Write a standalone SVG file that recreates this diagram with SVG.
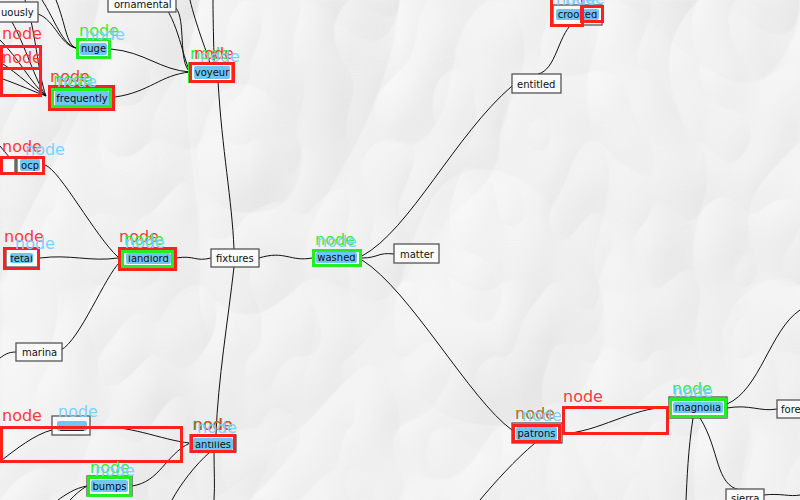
<svg xmlns="http://www.w3.org/2000/svg" width="800" height="500" viewBox="0 0 800 500">
<defs>
<style>
.bg{fill:#efefef}
.box{fill:#fafafa;stroke:#555;stroke-width:1.3}
.t{font-family:"DejaVu Sans",sans-serif;font-size:10px;fill:#111}
.blue{fill:#6ec6f5}
.ht{font-family:"DejaVu Sans",sans-serif;font-size:10px;fill:#111}
.red{fill:none;stroke:#ff2020;stroke-width:3}
.grn{fill:none;stroke:#22ee22;stroke-width:3}
.lab{font-family:"DejaVu Sans",sans-serif;font-size:16px}
.lr{fill:#ff3a3a}
.lg{fill:#30ee30}
.lb{fill:#7fcfff}
.edges path{fill:none;stroke:#111;stroke-width:1}
</style>
<filter id="paper" x="0" y="0" width="100%" height="100%" color-interpolation-filters="sRGB">
<feTurbulence type="turbulence" baseFrequency="0.005 0.0035" numOctaves="3" seed="11" result="n"/>
<feDiffuseLighting in="n" surfaceScale="7" diffuseConstant="1" lighting-color="#ffffff" result="l">
<feDistantLight azimuth="235" elevation="58"/>
</feDiffuseLighting>
<feColorMatrix in="l" type="matrix" values="0.38 0 0 0 0.62  0.38 0 0 0 0.62  0.38 0 0 0 0.62  0 0 0 0 1"/>
</filter>
<clipPath id="c-huge"><rect x="80" y="46" width="27" height="10"/></clipPath>
<clipPath id="c-freq"><rect x="55" y="94" width="54" height="12"/></clipPath>
<clipPath id="c-voy"><rect x="194" y="68.5" width="36" height="11"/></clipPath>
<clipPath id="c-ocp"><rect x="20" y="161.5" width="20" height="10"/></clipPath>
<clipPath id="c-fetal"><rect x="10" y="255.5" width="23" height="8"/></clipPath>
<clipPath id="c-land"><rect x="126" y="255.5" width="45" height="9"/></clipPath>
<clipPath id="c-wash"><rect x="316" y="254.5" width="41" height="9"/></clipPath>
<clipPath id="c-ant"><rect x="193" y="441.5" width="40" height="9"/></clipPath>
<clipPath id="c-bump"><rect x="91" y="482.5" width="37" height="10"/></clipPath>
<clipPath id="c-pat"><rect x="516" y="429.5" width="41" height="11"/></clipPath>
<clipPath id="c-mag"><rect x="673" y="404.5" width="50" height="9"/></clipPath>
<clipPath id="c-crook"><rect x="556" y="11.5" width="43" height="9"/></clipPath>
</defs>

<rect class="bg" x="0" y="0" width="800" height="500"/>
<rect id="paper-texture" x="0" y="0" width="800" height="500" filter="url(#paper)"/>

<g class="edges" id="connectors">
<path d="M38,14 C55,20 60,45 76,48"/>
<path d="M42,0 C55,20 62,44 76,48"/>
<path d="M56,0 C66,25 66,44 76,48"/>
<path d="M0,40 C20,60 30,82 46,96"/>
<path d="M0,62 C20,75 32,88 46,96"/>
<path d="M0,78 C20,85 35,92 46,96"/>
<path d="M12,22 C25,45 35,80 46,96"/>
<path d="M25,0 C35,25 38,75 46,96"/>
<path d="M111,49 C145,52 160,70 190,72"/>
<path d="M115,97 C150,92 160,75 190,72"/>
<path d="M176,8 C186,20 178,62 190,72"/>
<path d="M158,0 C176,12 182,55 190,72"/>
<path d="M190,0 C196,25 206,50 210,63"/>
<path d="M213,0 C213,25 214,50 214,63"/>
<path d="M218,81 C222,150 232,200 234,249"/>
<path d="M234,267 C228,320 218,380 216,434"/>
<path d="M214,453 C214,470 215,485 214,500"/>
<path d="M190,443 C160,440 130,424 90,427"/>
<path d="M52,430 C35,434 15,450 2,460"/>
<path d="M190,443 C165,455 160,482 132,486"/>
<path d="M87,486 C75,488 65,495 58,500"/>
<path d="M87,486 C80,490 75,495 70,500"/>
<path d="M210,452 C195,465 180,485 172,500"/>
<path d="M45,165 C60,170 95,236 118,257"/>
<path d="M40,258 C70,254 90,262 118,258"/>
<path d="M61,350 C80,340 105,276 120,262"/>
<path d="M16,352 C8,352 4,355 0,358"/>
<path d="M0,146 C5,152 10,158 15,164"/>
<path d="M0,162 L15,164"/>
<path d="M176,258 C195,255 195,262 211,258"/>
<path d="M259,258 C285,250 290,262 312,258"/>
<path d="M362,258 C378,258 378,252 394,254"/>
<path d="M362,256 C410,230 455,135 512,86"/>
<path d="M362,260 C410,290 470,400 512,430"/>
<path d="M538,74 C556,70 558,36 572,24"/>
<path d="M561,434 C600,432 630,408 669,407"/>
<path d="M535,443 C515,460 495,482 480,500"/>
<path d="M727,408 C750,404 760,412 777,409"/>
<path d="M727,404 C760,390 770,330 800,310"/>
<path d="M700,418 C720,450 715,485 740,490"/>
<path d="M693,418 C688,450 687,480 686,500"/>
<path d="M764,495 C780,493 790,497 800,495"/>
</g>

<g id="node-continuously"><rect class="box" x="-40" y="2" width="78" height="20"/><text class="t" x="1" y="16">uously</text></g>
<g id="node-ornamental"><rect class="box" x="108" y="-8" width="68" height="20"/><text class="t" x="114" y="8">ornamental</text></g>
<g id="node-fixtures"><rect class="box" x="211" y="249" width="48" height="18"/><text class="t" x="216" y="262">fixtures</text></g>
<g id="node-matter"><rect class="box" x="394" y="244" width="45" height="19"/><text class="t" x="400" y="258">matter</text></g>
<g id="node-entitled"><rect class="box" x="512" y="74" width="49" height="19"/><text class="t" x="517" y="88">entitled</text></g>
<g id="node-marina"><rect class="box" x="16" y="343" width="46" height="18"/><text class="t" x="22" y="356">marina</text></g>
<g id="node-fore"><rect class="box" x="777" y="400" width="40" height="18"/><text class="t" x="781" y="413">fore</text></g>
<g id="node-sierra"><rect class="box" x="726" y="489" width="38" height="20"/><text class="t" x="731" y="502">sierra</text></g>
<g id="node-left"><rect class="box" x="-10" y="158" width="25" height="15"/></g>

<g id="node-huge"><rect class="box" x="77" y="40" width="33" height="18"/><rect class="blue" x="80" y="43" width="27" height="12" rx="2"/><text class="ht" x="93.5" y="52" text-anchor="middle" clip-path="url(#c-huge)">huge</text></g>
<g id="node-frequently"><rect class="box" x="51" y="88" width="61" height="20"/><rect class="blue" x="55" y="91" width="54" height="15" rx="2"/><text class="ht" x="82" y="102" text-anchor="middle" clip-path="url(#c-freq)">frequently</text></g>
<g id="node-voyeur"><rect class="box" x="190" y="63" width="44" height="19"/><rect class="blue" x="194" y="66" width="36" height="13" rx="2"/><text class="ht" x="212" y="76" text-anchor="middle" clip-path="url(#c-voy)">voyeur</text></g>
<g id="node-ocp"><rect class="box" x="17" y="157" width="27" height="17"/><rect class="blue" x="20" y="159" width="20" height="12" rx="2"/><text class="ht" x="30" y="168.5" text-anchor="middle" clip-path="url(#c-ocp)">ocp</text></g>
<g id="node-fetal"><rect class="box" x="6" y="249" width="32" height="18"/><rect class="blue" x="10" y="253" width="23" height="10" rx="2"/><text class="ht" x="21.5" y="261.5" text-anchor="middle" clip-path="url(#c-fetal)">fetal</text></g>
<g id="node-landlord"><rect class="box" x="122" y="250" width="51" height="18"/><rect class="blue" x="126" y="253" width="45" height="11" rx="2"/><text class="ht" x="148.5" y="262" text-anchor="middle" clip-path="url(#c-land)">landlord</text></g>
<g id="node-washed"><rect class="box" x="313" y="250" width="48" height="16"/><rect class="blue" x="316" y="252" width="41" height="11" rx="2"/><text class="ht" x="336.5" y="261" text-anchor="middle" clip-path="url(#c-wash)">washed</text></g>
<g id="node-swiss"><rect class="box" x="52" y="416" width="38" height="19"/><rect class="blue" x="57" y="421" width="30" height="10" rx="2"/><path d="M60,430.5 H84" stroke="#222" stroke-width="1"/></g>
<g id="node-antilles"><rect class="box" x="190" y="435" width="46" height="17"/><rect class="blue" x="193" y="438" width="40" height="12" rx="2"/><text class="ht" x="213" y="448" text-anchor="middle" clip-path="url(#c-ant)">antilles</text></g>
<g id="node-bumps"><rect class="box" x="87" y="476" width="45" height="20"/><rect class="blue" x="91" y="480" width="37" height="12" rx="2"/><text class="ht" x="109.5" y="490" text-anchor="middle" clip-path="url(#c-bump)">bumps</text></g>
<g id="node-patrons"><rect class="box" x="512" y="423" width="50" height="20"/><rect class="blue" x="516" y="427" width="41" height="13" rx="2"/><text class="ht" x="536.5" y="437" text-anchor="middle" clip-path="url(#c-pat)">patrons</text></g>
<g id="node-magnolia"><rect class="box" x="669" y="397" width="58" height="21"/><rect class="blue" x="673" y="402" width="50" height="11" rx="2"/><text class="ht" x="698" y="411" text-anchor="middle" clip-path="url(#c-mag)">magnolia</text></g>
<g id="node-crooked"><rect class="box" x="553" y="5" width="49" height="20"/><rect class="blue" x="556" y="9" width="43" height="11" rx="2"/><text class="ht" x="577.5" y="18" text-anchor="middle" clip-path="url(#c-crook)">crooked</text></g>

<g id="overlays">
<rect class="grn" x="77.5" y="39.5" width="32" height="18"/>
<text class="lab lg" x="79" y="36">node</text><text class="lab lb" x="85" y="40">node</text>

<rect class="red" x="49.5" y="86.5" width="64" height="23"/>
<rect class="grn" x="52.5" y="89.5" width="58" height="17"/>
<text class="lab lr" x="50" y="82">node</text><text class="lab lg" x="53" y="85">node</text><text class="lab lb" x="57" y="87">node</text>

<rect class="red" x="1.5" y="46.5" width="39" height="22"/>
<rect class="red" x="1.5" y="68.5" width="39" height="27"/>
<text class="lab lr" x="2" y="39">node</text><text class="lab lr" x="2" y="63">node</text>

<rect class="grn" x="189.5" y="63.5" width="43" height="18"/>
<rect class="red" x="190.5" y="63.5" width="43" height="18"/>
<text class="lab lg" x="190" y="59">node</text><text class="lab lr" x="194" y="59">node</text><text class="lab lb" x="200" y="62">node</text>

<rect class="red" x="1.5" y="157.5" width="42" height="16"/>
<line x1="16" y1="158" x2="16" y2="173" stroke="#555" stroke-width="1.3"/>
<text class="lab lr" x="2" y="152">node</text><text class="lab lb" x="25" y="155">node</text>

<rect class="red" x="4.5" y="248.5" width="34" height="20"/>
<text class="lab lr" x="4" y="242">node</text><text class="lab lb" x="15" y="249">node</text>

<rect class="red" x="119.5" y="248.5" width="56" height="21"/>
<rect class="grn" x="122.5" y="251.5" width="50" height="15"/>
<text class="lab lr" x="119" y="242">node</text><text class="lab lg" x="124" y="245">node</text><text class="lab lb" x="125" y="248">node</text>

<rect class="grn" x="313.5" y="250.5" width="47" height="15"/>
<text class="lab lg" x="315" y="245">node</text><text class="lab lb" x="317" y="247">node</text>

<rect class="red" x="1.5" y="427.5" width="180" height="34"/>
<text class="lab lr" x="2" y="421">node</text><text class="lab lb" x="58" y="417">node</text>

<rect class="grn" x="190.5" y="435.5" width="44" height="16"/>
<rect class="red" x="191.5" y="435.5" width="43" height="16"/>
<text class="lab lg" x="192" y="430">node</text><text class="lab lr" x="193" y="430">node</text><text class="lab lb" x="197" y="433">node</text>

<rect class="grn" x="88.5" y="477.5" width="42" height="18"/>
<text class="lab lg" x="90" y="473">node</text><text class="lab lb" x="95" y="476">node</text>

<rect class="red" x="513.5" y="425.5" width="46" height="16"/>
<text class="lab lg" x="515" y="419">node</text><text class="lab lr" x="515" y="419" opacity=".75">node</text><text class="lab lb" x="522" y="421">node</text>

<rect class="red" x="563.5" y="407.5" width="104" height="26"/>
<text class="lab lr" x="563" y="402">node</text>

<rect class="grn" x="670.5" y="399.5" width="55" height="17"/>
<text class="lab lg" x="672" y="394">node</text><text class="lab lb" x="673" y="397">node</text>

<rect class="red" x="551.5" y="-1.5" width="31" height="27"/>
<rect class="red" x="581.5" y="6.5" width="21" height="15"/>
<text class="lab lb" x="556" y="5">node</text><text class="lab lb" x="565" y="4">node</text>
</g>
</svg>
